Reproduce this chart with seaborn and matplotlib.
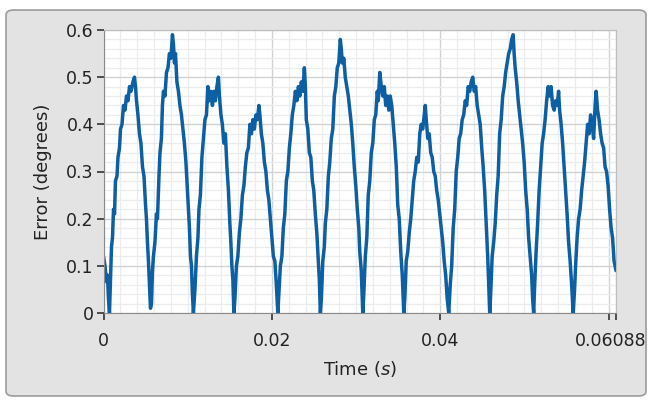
import seaborn as sns
import matplotlib.pyplot as plt
import matplotlib.transforms as mtransforms
import numpy as np
from matplotlib.patches import FancyBboxPatch

# time in ms
time_ms = [
    0.00, 0.18, 0.36, 0.47, 0.59, 0.71, 0.83, 0.95, 1.07, 1.19, 1.31, 1.42, 1.60, 1.72, 1.90, 2.02,
    2.20, 2.37, 2.55, 2.73, 2.91, 3.09, 3.26, 3.50, 3.68, 3.80, 3.92, 4.09, 4.27, 4.45, 4.63, 4.81,
    4.99, 5.10, 5.22, 5.34, 5.46, 5.58, 5.70, 5.82, 5.93, 6.11, 6.29, 6.41, 6.59, 6.71, 6.88, 7.00,
    7.12, 7.30, 7.48, 7.66, 7.83, 8.01, 8.19, 8.31, 8.43, 8.55, 8.72, 8.90, 9.08, 9.26, 9.44, 9.61,
    9.79, 9.91, 10.09, 10.21, 10.33, 10.45, 10.56, 10.68, 10.86, 11.04, 11.22, 11.34, 11.51, 11.69,
    11.87, 12.05, 12.23, 12.40, 12.58, 12.76, 12.94, 13.12, 13.29, 13.47, 13.65, 13.77, 13.95, 14.12,
    14.30, 14.48, 14.66, 14.84, 15.01, 15.13, 15.25, 15.37, 15.49, 15.61, 15.79, 15.96, 16.14, 16.32,
    16.50, 16.68, 16.85, 17.03, 17.21, 17.39, 17.57, 17.74, 17.92, 18.10, 18.28, 18.46, 18.58, 18.75,
    18.93, 19.11, 19.29, 19.47, 19.64, 19.82, 20.00, 20.18, 20.36, 20.53, 20.71, 20.83, 21.01, 21.19,
    21.36, 21.54, 21.72, 21.90, 22.08, 22.25, 22.43, 22.61, 22.79, 22.97, 23.15, 23.32, 23.50, 23.68,
    23.86, 23.98, 24.09, 24.27, 24.45, 24.63, 24.81, 24.98, 25.16, 25.34, 25.52, 25.64, 25.76, 25.88,
    26.05, 26.23, 26.35, 26.53, 26.71, 26.88, 27.06, 27.24, 27.42, 27.60, 27.77, 27.95, 28.13, 28.25,
    28.37, 28.55, 28.72, 28.90, 29.08, 29.26, 29.44, 29.61, 29.79, 29.97, 30.15, 30.33, 30.44, 30.62,
    30.80, 30.92, 31.10, 31.28, 31.45, 31.63, 31.81, 31.99, 32.17, 32.34, 32.52, 32.64, 32.82, 33.00,
    33.17, 33.35, 33.53, 33.71, 33.89, 34.06, 34.24, 34.42, 34.60, 34.78, 34.95, 35.13, 35.31, 35.49,
    35.67, 35.79, 35.96, 36.14, 36.32, 36.50, 36.68, 36.85, 37.03, 37.21, 37.39, 37.57, 37.74, 37.92,
    38.10, 38.22, 38.34, 38.52, 38.69, 38.87, 39.05, 39.23, 39.41, 39.58, 39.76, 39.94, 40.12, 40.30,
    40.47, 40.65, 40.83, 41.01, 41.19, 41.36, 41.54, 41.72, 41.90, 42.08, 42.25, 42.43, 42.61, 42.79,
    42.97, 43.14, 43.32, 43.50, 43.68, 43.86, 44.04, 44.21, 44.39, 44.57, 44.75, 44.93, 45.10, 45.28,
    45.46, 45.64, 45.76, 45.88, 45.99, 46.17, 46.35, 46.53, 46.71, 46.88, 47.06, 47.24, 47.42, 47.60,
    47.77, 47.95, 48.13, 48.31, 48.49, 48.66, 48.78, 48.90, 49.08, 49.26, 49.44, 49.61, 49.79, 49.97,
    50.15, 50.33, 50.50, 50.68, 50.86, 50.98, 51.10, 51.22, 51.39, 51.57, 51.75, 51.93, 52.11, 52.28,
    52.46, 52.64, 52.82, 53.00, 53.17, 53.35, 53.53, 53.71, 53.89, 54.06, 54.18, 54.36, 54.54, 54.72,
    54.90, 55.07, 55.25, 55.43, 55.61, 55.79, 55.96, 56.08, 56.26, 56.44, 56.62, 56.80, 56.97, 57.15,
    57.33, 57.51, 57.69, 57.86, 58.04, 58.22, 58.40, 58.52, 58.69, 58.87, 59.05, 59.23, 59.41, 59.58,
    59.76, 59.94, 60.12, 60.30, 60.47, 60.65, 60.88,
]

error_deg = [
    0.12, 0.10, 0.066, 0.08, 0.03, 0.0, 0.07, 0.14, 0.16, 0.22, 0.21, 0.28, 0.29, 0.33, 0.35, 0.39,
    0.40, 0.44, 0.43, 0.46, 0.45, 0.48, 0.47, 0.49, 0.50, 0.48, 0.45, 0.42, 0.38, 0.36, 0.31, 0.29,
    0.23, 0.20, 0.15, 0.11, 0.06, 0.01, 0.02, 0.09, 0.12, 0.15, 0.21, 0.20, 0.29, 0.34, 0.37, 0.44,
    0.47, 0.46, 0.51, 0.52, 0.55, 0.54, 0.59, 0.57, 0.53, 0.55, 0.49, 0.47, 0.44, 0.42, 0.39, 0.36,
    0.32, 0.28, 0.22, 0.18, 0.12, 0.10, 0.04, 0.0, 0.05, 0.12, 0.16, 0.22, 0.25, 0.33,
    0.37, 0.41, 0.42, 0.48, 0.45, 0.47, 0.44, 0.47, 0.45, 0.48, 0.50, 0.46, 0.42, 0.40,
    0.36, 0.38, 0.31, 0.26, 0.19, 0.15, 0.10, 0.07, 0.0, 0.03, 0.10, 0.12, 0.17, 0.20,
    0.25, 0.27, 0.31, 0.34, 0.35, 0.40, 0.38, 0.41, 0.39, 0.42, 0.41, 0.44, 0.42, 0.38,
    0.36, 0.32, 0.30, 0.26, 0.24, 0.20, 0.16, 0.12, 0.11, 0.06, 0.0, 0.04, 0.10, 0.12,
    0.18, 0.21, 0.28, 0.30, 0.35, 0.38, 0.42, 0.44, 0.47, 0.45, 0.48, 0.46, 0.49, 0.47,
    0.52, 0.48, 0.41, 0.39, 0.34, 0.33, 0.28, 0.26, 0.21, 0.17, 0.11, 0.07, 0.0, 0.03,
    0.11, 0.14, 0.19, 0.22, 0.29, 0.32, 0.37, 0.39, 0.46, 0.48, 0.52, 0.53, 0.58, 0.56,
    0.53, 0.54, 0.50, 0.48, 0.46, 0.43, 0.40, 0.36, 0.31, 0.27, 0.22, 0.18, 0.13, 0.09,
    0.0, 0.04, 0.12, 0.16, 0.25, 0.28, 0.34, 0.36, 0.41, 0.42, 0.47, 0.45, 0.51, 0.48,
    0.46, 0.48, 0.44, 0.46, 0.43, 0.46, 0.44, 0.40, 0.36, 0.31, 0.23, 0.20, 0.13, 0.08,
    0.0, 0.03, 0.11, 0.13, 0.17, 0.20, 0.24, 0.28, 0.30, 0.33, 0.32, 0.38, 0.40, 0.39,
    0.42, 0.44, 0.41, 0.37, 0.38, 0.34, 0.33, 0.30, 0.29, 0.26, 0.24, 0.21, 0.18, 0.15,
    0.11, 0.08, 0.03, 0.0, 0.06, 0.10, 0.18, 0.22, 0.30, 0.33, 0.37, 0.38, 0.41, 0.42,
    0.45, 0.44, 0.48, 0.47, 0.49, 0.50, 0.47, 0.48, 0.44, 0.42, 0.40, 0.35, 0.31, 0.26,
    0.19, 0.12, 0.06, 0.0, 0.04, 0.12, 0.15, 0.19, 0.25, 0.29, 0.38, 0.41, 0.46, 0.48,
    0.51, 0.53, 0.55, 0.56, 0.58, 0.59, 0.55, 0.52, 0.49, 0.45, 0.42, 0.39, 0.36, 0.32,
    0.26, 0.22, 0.16, 0.12, 0.08, 0.03, 0.0, 0.06, 0.13, 0.19, 0.26, 0.31, 0.36, 0.38,
    0.41, 0.45, 0.48, 0.46, 0.48, 0.44, 0.43, 0.45, 0.44, 0.47, 0.43, 0.40, 0.36, 0.31,
    0.26, 0.21, 0.15, 0.11, 0.06, 0.0, 0.05, 0.10, 0.16, 0.20, 0.22, 0.26, 0.29, 0.32,
    0.36, 0.40, 0.38, 0.42, 0.40, 0.37, 0.44, 0.47, 0.43, 0.41, 0.38, 0.36, 0.35, 0.31,
    0.30, 0.27, 0.22, 0.18, 0.16, 0.11, 0.09,
]

x_ticks = [0, 0.02, 0.04, 0.06, 0.06088]
x_tick_labels = ["0", "0.02", "0.04", "", "0.06088"]
y_ticks = [0, 0.1, 0.2, 0.3, 0.4, 0.5, 0.6]
y_tick_labels = ["0", "0.1", "0.2", "0.3", "0.4", "0.5", "0.6"]

sns.set_style("white")
plt.rcParams["font.family"] = ["DejaVu Sans"]

fig = plt.figure(figsize=(6.52, 4.01), dpi=100, facecolor="white")

# grey panel behind the graph
panel = FancyBboxPatch((6 / 652, 5 / 401), 640 / 652, 386 / 401,
                       boxstyle="round,pad=0,rounding_size=0.012",
                       transform=fig.transFigure, facecolor="#e3e3e3",
                       edgecolor="#9c9c9c", linewidth=1.2, zorder=-5)
fig.patches.append(panel)

ax = fig.add_axes([103.5 / 652, 1 - 313 / 401, (616 - 103.5) / 652, (313 - 30) / 401])
ax.set_zorder(2)
ax.set_facecolor("white")

t = np.array(time_ms) / 1000.0
sns.lineplot(x=t, y=error_deg, ax=ax, color="#0c5fa3", linewidth=2.5,
             sort=False, estimator=None)

ax.set_xlim(0, 0.06088)
ax.set_ylim(0, 0.6)
ax.set_xticks(x_ticks)
ax.set_xticklabels(x_tick_labels)
ax.set_yticks(y_ticks)
ax.set_yticklabels(y_tick_labels)
ax.set_xticks(np.arange(0, 0.0609, 0.002), minor=True)
ax.set_yticks(np.arange(0, 0.601, 0.02), minor=True)

ax.grid(which="minor", color="#ececec", linewidth=0.9)
ax.grid(which="major", color="#d2d2d2", linewidth=1.0)
ax.set_axisbelow(True)

ax.tick_params(which="major", direction="out", length=5, width=1.2,
               color="#333333", labelsize=12.5, labelcolor="#222222",
               bottom=True, left=True, pad=2)
ax.tick_params(axis="x", which="major", pad=9)
ax.tick_params(which="minor", length=0)
# nudge the end label a little to the left, as in the original
end_label = ax.get_xticklabels()[-1]
end_label.set_transform(end_label.get_transform()
                        + mtransforms.ScaledTranslation(-5 / 100, 0, fig.dpi_scale_trans))

for side in ["top", "right"]:
    ax.spines[side].set_color("#bdbdbd")
for side in ["left", "bottom"]:
    ax.spines[side].set_color("#8a8a8a")

ax.set_xlabel(r"Time ($\it{s}$)", fontsize=13, color="#222222", labelpad=6)
ax.set_ylabel("Error (degrees)", fontsize=13, color="#222222", labelpad=10)

fig.savefig("out.png", dpi=100, facecolor="white")
